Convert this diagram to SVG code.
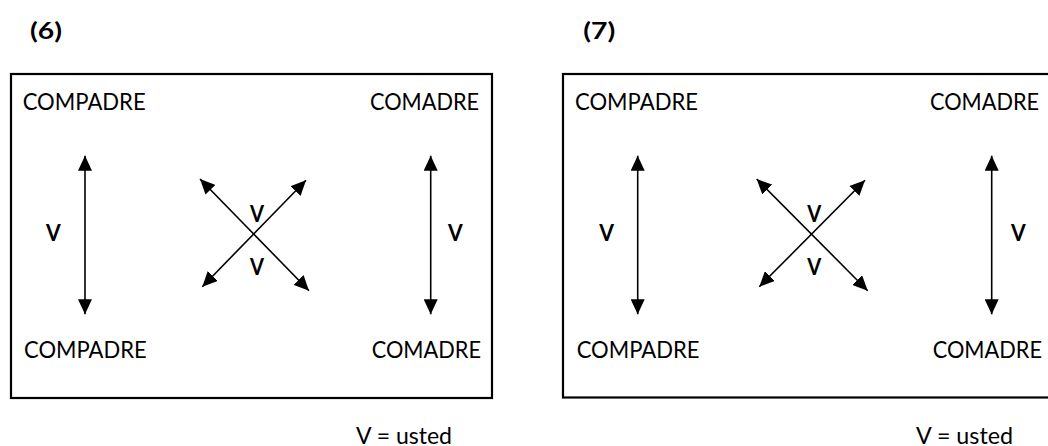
<svg xmlns="http://www.w3.org/2000/svg" width="1048" height="446" viewBox="0 0 1048 446">
<style>
  .lbl { font-family: Lato, "Open Sans", "Liberation Sans", sans-serif; font-size: 23px; fill: #000; }
  .b { font-family: Lato, "Open Sans", "Liberation Sans", sans-serif; font-size: 22px; font-weight: bold; fill: #000; }
  .frame { fill: #fff; stroke: #000; stroke-width: 2.2; }
  .conn { stroke: #000; stroke-width: 1.6; fill: none; marker-start: url(#ah); marker-end: url(#ah); }
</style>
<defs>
  <marker id="ah" viewBox="0 0 15 14" refX="15" refY="7" markerWidth="15" markerHeight="14" markerUnits="userSpaceOnUse" orient="auto-start-reverse">
    <path d="M0,0 L15,7 L0,14 z" fill="#000"/>
  </marker>
</defs>
<rect width="1048" height="446" fill="#fff"/>

<!-- Panel 6 -->
<g id="panel6">
  <text class="b" x="30" y="39" textLength="32" lengthAdjust="spacingAndGlyphs">(6)</text>
  <rect class="frame" x="11" y="74" width="481" height="324"/>
  <g id="p6-compadre-top"><text class="lbl" x="22.7" y="110" textLength="123" lengthAdjust="spacingAndGlyphs">COMPADRE</text></g>
  <g id="p6-comadre-top"><text class="lbl" x="370" y="110" textLength="109" lengthAdjust="spacingAndGlyphs">COMADRE</text></g>
  <g id="p6-compadre-bottom"><text class="lbl" x="24" y="357.7" textLength="122.7" lengthAdjust="spacingAndGlyphs">COMPADRE</text></g>
  <g id="p6-comadre-bottom"><text class="lbl" x="371.7" y="357.7" textLength="109.3" lengthAdjust="spacingAndGlyphs">COMADRE</text></g>
  <g id="p6-connectors">
    <line class="conn" x1="85" y1="155.7" x2="85" y2="314.3"/>
    <line class="conn" x1="430.7" y1="155.7" x2="430.7" y2="314.3"/>
    <line class="conn" x1="200" y1="179" x2="309" y2="290.7"/>
    <line class="conn" x1="306" y1="180.3" x2="202.3" y2="286.7"/>
  </g>
  <g id="p6-vlabels">
    <text class="b" x="46" y="240.7" textLength="14.7" lengthAdjust="spacingAndGlyphs">V</text>
    <text class="b" x="448" y="240.7" textLength="14.7" lengthAdjust="spacingAndGlyphs">V</text>
    <text class="b" x="250" y="221.7" textLength="14" lengthAdjust="spacingAndGlyphs">V</text>
    <text class="b" x="250" y="275" textLength="14" lengthAdjust="spacingAndGlyphs">V</text>
  </g>
  <text class="lbl" x="356" y="444" textLength="96" lengthAdjust="spacingAndGlyphs">V = usted</text>
</g>

<!-- Panel 7 -->
<g id="panel7">
  <text class="b" x="583.3" y="39" textLength="32" lengthAdjust="spacingAndGlyphs">(7)</text>
  <rect class="frame" x="563" y="74" width="500" height="323.5"/>
  <g id="p7-compadre-top"><text class="lbl" x="575" y="110" textLength="123" lengthAdjust="spacingAndGlyphs">COMPADRE</text></g>
  <g id="p7-comadre-top"><text class="lbl" x="930" y="110" textLength="109" lengthAdjust="spacingAndGlyphs">COMADRE</text></g>
  <g id="p7-compadre-bottom"><text class="lbl" x="576.7" y="357.7" textLength="122.7" lengthAdjust="spacingAndGlyphs">COMPADRE</text></g>
  <g id="p7-comadre-bottom"><text class="lbl" x="932.7" y="357.7" textLength="109.3" lengthAdjust="spacingAndGlyphs">COMADRE</text></g>
  <g id="p7-connectors">
    <line class="conn" x1="637.7" y1="155.7" x2="637.7" y2="314.3"/>
    <line class="conn" x1="991.7" y1="155.7" x2="991.7" y2="314.3"/>
    <line class="conn" x1="756.7" y1="179" x2="867.7" y2="290.7"/>
    <line class="conn" x1="865" y1="180.3" x2="759.3" y2="286.7"/>
  </g>
  <g id="p7-vlabels">
    <text class="b" x="599.3" y="240.7" textLength="14.7" lengthAdjust="spacingAndGlyphs">V</text>
    <text class="b" x="1011" y="240.7" textLength="14.7" lengthAdjust="spacingAndGlyphs">V</text>
    <text class="b" x="807.3" y="221.7" textLength="14" lengthAdjust="spacingAndGlyphs">V</text>
    <text class="b" x="807.3" y="275" textLength="14" lengthAdjust="spacingAndGlyphs">V</text>
  </g>
  <text class="lbl" x="916" y="444" textLength="97" lengthAdjust="spacingAndGlyphs">V = usted</text>
</g>
</svg>
